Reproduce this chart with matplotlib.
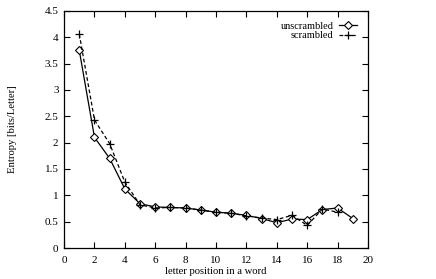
import matplotlib
matplotlib.use("Agg")
import matplotlib.pyplot as plt

plt.rcParams['font.family'] = ['Liberation Serif', 'DejaVu Serif']

pos_unscr = [1, 2, 3, 4, 5, 6, 7, 8, 9, 10, 11, 12, 13, 14, 15, 16, 17, 18, 19]
ent_unscr = [3.75, 2.10, 1.70, 1.12, 0.84, 0.78, 0.77, 0.76, 0.72, 0.68, 0.66, 0.62, 0.56, 0.48, 0.55, 0.54, 0.73, 0.76, 0.56]
pos_scr = [1, 2, 3, 4, 5, 6, 7, 8, 9, 10, 11, 12, 13, 14, 15, 16, 17, 18]
ent_scr = [4.06, 2.43, 1.98, 1.25, 0.82, 0.76, 0.77, 0.76, 0.72, 0.68, 0.66, 0.61, 0.57, 0.54, 0.62, 0.43, 0.74, 0.68]

xticks = [0, 2, 4, 6, 8, 10, 12, 14, 16, 18, 20]
yticks = [0, 0.5, 1, 1.5, 2, 2.5, 3, 3.5, 4, 4.5]
ytick_labels = ['0', '0.5', '1', '1.5', '2', '2.5', '3', '3.5', '4', '4.5']

fig = plt.figure(figsize=(4.36, 2.79), dpi=100)
ax = fig.add_axes([0.147, 0.111, 0.697, 0.850])

ax.plot(pos_unscr, ent_unscr, color='black', lw=0.9, marker='D', markersize=4.5,
        markerfacecolor='white', markeredgecolor='black', markeredgewidth=0.8, label='unscrambled')
ax.plot(pos_scr, ent_scr, color='black', lw=0.9, ls=(0, (3, 2)), marker='+', markersize=6,
        markeredgewidth=0.9, label='scrambled')

ax.set_xlim(0, 20)
ax.set_ylim(0, 4.5)
ax.set_xticks(xticks)
ax.set_yticks(yticks)
ax.set_yticklabels(ytick_labels)
ax.tick_params(direction='in', top=True, right=True, length=4, width=0.8, labelsize=8)
ax.tick_params(axis='x', pad=6)
ax.tick_params(axis='y', pad=4)
for s in ax.spines.values():
    s.set_linewidth(0.9)

ax.set_xlabel('letter position in a word', fontsize=7.7, labelpad=1)
ax.set_ylabel('Entropy [bits/Letter]', fontsize=7.7, labelpad=20)

ax.legend(loc='upper right', frameon=False, markerfirst=False, fontsize=7.5,
          handlelength=1.7, handletextpad=0.5, labelspacing=0.0,
          borderpad=0.3, bbox_to_anchor=(0.99, 0.99))

fig.savefig('out.png', dpi=100)
